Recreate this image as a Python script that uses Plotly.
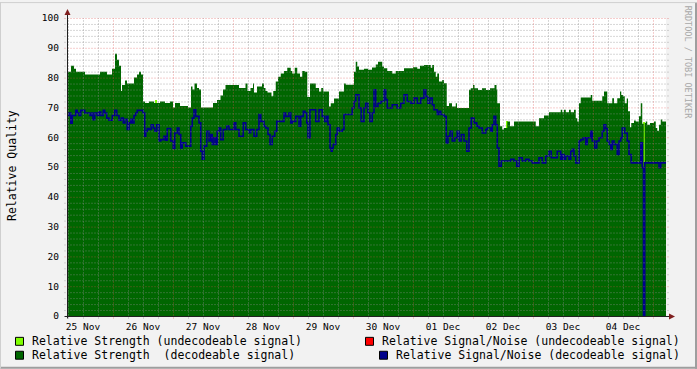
import plotly.graph_objects as go

# ---------------- data (hours since 25 Nov 00:00) ----------------
day_labels = ["25 Nov", "26 Nov", "27 Nov", "28 Nov", "29 Nov",
              "30 Nov", "01 Dec", "02 Dec", "03 Dec", "04 Dec"]

strength_hours = [5.6, 7.2, 8.4, 9.2, 12.8, 18.8, 21.6, 23.6, 24.8, 25.6, 26.4, 27.2, 27.6, 28.8, 29.6,
                  32.4, 33.6, 34.4, 35.2, 36.0, 36.8, 38.4, 40.4, 42.8, 44.8, 46.8, 48.0, 48.8, 50.8,
                  54.0, 55.2, 55.8, 56.6, 57.6, 58.4, 59.2, 64.0, 65.6, 67.0, 68.0, 69.0, 74.4, 77.0,
                  77.8, 79.0, 80.0, 80.4, 81.6, 83.6, 84.4, 85.0, 85.8, 87.4, 88.1, 89.1, 90.0, 91.1,
                  92.4, 93.7, 95.1, 95.7, 96.7, 97.7, 98.8, 99.7, 100.7, 101.7, 102.8, 105.1, 106.4,
                  107.3, 108.1, 110.4, 111.1, 112.4, 114.4, 116.4, 117.1, 120.4, 121.1, 121.7, 122.4,
                  124.4, 126.0, 127.6, 129.1, 130.0, 131.7, 132.4, 133.7, 135.7, 137.1, 140.4, 144.0,
                  145.7, 146.8, 148.4, 151.1, 151.7, 152.4, 153.1, 153.7, 154.4, 155.7, 156.4, 157.5,
                  158.4, 159.6, 161.1, 161.6, 166.4, 167.1, 168.0, 168.6, 170.0, 171.6, 173.2, 174.8,
                  176.6, 177.4, 177.7, 178.8, 179.7, 180.4, 181.7, 182.8, 184.4, 193.1, 194.4, 196.4,
                  198.4, 203.1, 203.7, 204.4, 205.1, 206.4, 207.1, 208.4, 209.1, 209.7, 210.4, 211.1,
                  215.1, 215.7, 219.7, 220.4, 221.7, 223.7, 224.4, 225.7, 226.8, 227.3, 228.0, 228.7,
                  229.5, 230.0, 230.8, 231.3, 232.4, 233.1, 234.4, 235.1, 235.7, 236.3, 236.7, 237.1,
                  237.7, 238.8, 240.4, 241.1, 241.7, 242.4, 243.1, 243.7, 245.2]
strength_vals = [82, 84, 83, 82, 81, 82, 81, 83, 88, 86, 84, 75.5, 77.5, 79, 78,
                 80, 81, 82, 81, 72, 71.5, 72, 71.5, 72, 71.5, 72, 70, 71.5, 70.5,
                 70, 77, 76, 78, 76.5, 76, 70, 71.5, 72.5, 74, 76, 77.5, 76.5, 78,
                 75.5, 76.5, 78, 75, 77, 78, 76.5, 75.5, 75, 73.7, 75.5, 78.7, 80.3, 81.4,
                 82.2, 83.3, 82.2, 81.4, 83.3, 81.4, 80.3, 82.2, 82, 73.5, 78, 76.5, 75.3,
                 76.5, 75.3, 70.3, 71.4, 73, 75.3, 78, 77.6, 82, 85.3, 83.7, 82.6,
                 83, 82.6, 83.4, 84.4, 85.3, 83.7, 83.1, 82.2, 81.4, 82.2, 83.1, 83.5,
                 83, 84, 84.2, 83.3, 84.2, 82, 80.3, 81.4, 78.7, 79.2, 78.1, 70.5,
                 71.4, 70.3, 71.4, 69.8, 75.9, 76.4, 77.5, 76.4, 75.8, 76.4, 75.8, 76.4,
                 77.5, 76, 71.4, 63.7, 62.6, 63.1, 65.3, 63.7, 65.3, 63.7, 66.4, 67.3,
                 68.4, 69.2, 68.4, 69.2, 68.4, 69.2, 68.4, 69.2, 66.4, 65.3, 71.4, 73.3,
                 74.2, 72.2, 73.7, 75.3, 71.4, 73.1, 71.4, 73.1, 75.3, 74.2, 73.7, 71.4,
                 73, 68.7, 63.3, 64.8, 65.6, 65.3, 67, 71.4, 64.5, 0, 64.8, 65.3,
                 64.2, 64.8, 65.3, 63.1, 62.2, 64.2, 65.9, 65.3, 65.3]

snr_hours = [5.6, 6.4, 7.1, 7.7, 9.1, 9.7, 10.4, 11.1, 12.7, 14.8, 15.5, 16.0, 16.7, 17.7, 18.4,
             19.1, 20.1, 20.7, 21.5, 22.4, 23.7, 24.7, 25.5, 26.4, 27.3, 28.1, 28.8, 29.7, 30.4,
             31.1, 31.7, 32.4, 33.1, 33.7, 36.0, 36.7, 37.1, 37.7, 38.4, 39.3, 40.1, 40.7, 41.5,
             42.4, 43.1, 44.4, 45.1, 45.7, 47.1, 48.1, 48.7, 49.7, 50.4, 51.1, 51.7, 53.1, 55.1,
             55.7, 56.4, 57.1, 58.4, 59.1, 59.7, 60.4, 61.5, 62.4, 63.1, 63.7, 64.4, 65.1, 65.7,
             66.4, 67.1, 68.1, 69.5, 70.4, 72.4, 73.1, 74.4, 76.1, 77.1, 78.4, 79.1, 80.4, 81.5,
             82.4, 83.1, 84.4, 85.1, 86.0, 86.8, 87.7, 88.7, 89.5, 92.4, 93.1, 94.4, 95.1, 95.7,
             97.1, 98.4, 99.1, 100.1, 100.8, 101.5, 102.0, 102.8, 105.1, 106.4, 107.7, 108.7,
             109.5, 110.0, 110.8, 111.3, 111.7, 112.1, 113.1, 113.7, 114.4, 115.7, 116.4, 119.7,
             120.4, 121.1, 122.4, 123.3, 124.4, 125.1, 126.0, 126.8, 127.7, 128.4, 129.1, 130.0,
             131.1, 132.4, 133.1, 133.7, 135.7, 137.7, 139.1, 140.4, 141.7, 143.1, 144.4, 145.7,
             147.1, 148.4, 149.1, 150.0, 150.8, 151.7, 152.4, 153.7, 154.4, 155.1, 156.4, 157.3,
             158.0, 158.8, 159.7, 160.7, 161.7, 162.4, 163.3, 164.4, 165.5, 166.4, 167.3, 168.4,
             169.5, 170.4, 171.7, 173.1, 173.7, 175.1, 175.7, 176.4, 177.1, 177.7, 178.4, 179.3,
             183.1, 184.4, 185.5, 186.4, 187.7, 189.1, 190.4, 191.7, 194.4, 195.7, 197.1, 198.4,
             199.3, 201.7, 203.1, 203.7, 204.4, 205.1, 206.4, 207.1, 207.7, 208.4, 209.1, 210.4,
             211.1, 212.1, 213.1, 213.7, 215.1, 215.7, 216.7, 217.5, 218.4, 219.7, 220.4, 221.1,
             221.7, 222.4, 223.1, 223.7, 224.4, 225.7, 226.4, 227.1, 227.7, 228.7, 229.7, 230.4,
             231.3, 235.1, 235.7, 236.2, 236.7, 242.4, 243.1, 245.2]
snr_vals = [67.3, 68.1, 64.7, 67.3, 69, 68.1, 67.3, 69, 68.1, 67.3, 68.1, 65.9, 68.1, 67.3, 68.4,
            67.3, 69, 68.1, 66.4, 65.7, 67.3, 69, 67.3, 65.7, 66.4, 64.8, 66, 62.6, 64.8,
            66, 64.8, 67.3, 68.1, 69, 68.1, 60.3, 62, 62.9, 62.6, 64.2, 63.1, 62, 64.2,
            58.7, 59.2, 60.3, 59, 62.9, 58.7, 56.2, 61.4, 63.1, 60.9, 56.4, 58.1, 57, 63.7,
            66.4, 69.2, 67, 64.8, 55.3, 52.6, 57, 62, 58.7, 60.9, 57.6, 59.8, 57.6, 62,
            63.1, 59.2, 62.6, 63.7, 62.6, 64.8, 62.6, 60.3, 64.8, 62.6, 61.5, 62.6, 60.3, 62.6,
            67.6, 65.3, 63.7, 63.1, 60.9, 57.6, 60.3, 62, 65.3, 68.1, 67, 68.1, 64.8, 65.3,
            67, 63.7, 67, 68.7, 68.1, 64.8, 59.8, 69.2, 65.3, 69.2, 67, 65.3,
            67, 64.2, 56.4, 55.3, 56.4, 57.6, 60.9, 63.1, 62, 62.6, 67.6, 69.8,
            72, 74.2, 69.8, 65.3, 69.8, 71.4, 68.1, 65.3, 68.1, 75.9, 70.3, 71.4,
            72, 75.9, 72.6, 69.8, 70.9, 69.8, 71.4, 74.2, 72, 71.4, 73.1, 71.4,
            73.1, 75.9, 73.7, 71.4, 73.1, 70.9, 69.2, 67.6, 68.7, 67.6, 67, 58.1,
            60.3, 62, 58.7, 59.8, 62, 58.7, 60.9, 58.7, 55.3, 63.1, 66.4, 64.8,
            63.7, 63.1, 61.4, 62.6, 63.1, 62, 64.2, 67, 64.2, 56.4, 50.3, 52,
            52.6, 52, 50.3, 53.1, 52, 52.6, 52, 51.4, 53.1, 51.4, 53.7, 55.3,
            53.1, 55.3, 52.6, 54.2, 52.6, 53.7, 52.6, 55.3, 55.9, 53.7, 51.4, 58.7,
            59.2, 59.8, 57.6, 59.8, 62, 58.7, 56.4, 58.7, 59.8, 62, 64.2, 62.9,
            58.7, 57.6, 55.9, 58.7, 57.6, 54.2, 58.7, 59.8, 63.1, 61.4, 58.7, 54.2,
            51.4, 58.1, 49.8, 0, 51.4, 49.8, 51.4, 51.4]

undec_hours = [41.2, 181.6, 236.5]
undec_vals = [72.4, 65.6, 65.0]

# ---------------- geometry helpers ----------------
W, H = 697, 369
L, R, T, B = 67, 31, 16, 53
PW, PH = W - L - R, H - T - B
X0, X1 = 5.6, 245.2
HALF_X = 0.5 * (X1 - X0) / PW   # half a pixel in hours
HALF_Y = 0.5 * 100 / PH         # half a pixel in value units


def pxx(xp):
    return (xp - L) / PW


def pyy(yp):
    return (H - B - yp) / PH


FONT = "DejaVu Sans Mono"
GRID = "rgba(143,143,143,0.7)"
MGRID = "rgba(222,79,79,0.55)"
ARROW = "#801F1F"
AXIS = "#1F1F1F"
DOT = "1px,2px"

fig = go.Figure()
fig.add_trace(go.Bar(x=undec_hours, y=undec_vals, width=0.45,
                     marker=dict(color="#80FF00", line=dict(width=0)), hoverinfo="skip"))
fig.add_trace(go.Scatter(x=strength_hours, y=strength_vals, mode="lines", line_shape="hv",
                         line=dict(width=0, color="#006600"), fill="tozeroy",
                         fillcolor="#006600", hoverinfo="skip"))
fig.add_trace(go.Scatter(x=snr_hours, y=snr_vals, mode="lines", line_shape="hv",
                         line=dict(width=1.6, color="#00008B"), hoverinfo="skip"))

shapes = []
ext = 2.5 / PW
exty = 2.5 / PH
# horizontal grid
for v in range(2, 101, 2):
    major = v % 10 == 0
    yv = v - HALF_Y
    shapes.append(dict(type="line", xref="paper", yref="y", x0=-ext, x1=1 + ext, y0=yv, y1=yv,
                       line=dict(color=MGRID if major else GRID, width=1, dash=DOT),
                       layer="above"))
# vertical grid
h = 6
while h < X1:
    if h > X0:
        major = h % 24 == 0
        xv = h + HALF_X
        shapes.append(dict(type="line", xref="x", yref="paper", x0=xv, x1=xv, y0=-exty, y1=1,
                           line=dict(color=MGRID if major else GRID, width=1, dash=DOT),
                           layer="above"))
    h += 6
# axes
shapes.append(dict(type="line", xref="paper", yref="paper", x0=0.5 / PW, x1=0.5 / PW, y0=-exty, y1=pyy(10),
                   line=dict(color=AXIS, width=1), layer="above"))
shapes.append(dict(type="line", xref="paper", yref="paper", x0=-ext, x1=pxx(671), y0=-0.5 / PH, y1=-0.5 / PH,
                   line=dict(color=AXIS, width=1), layer="above"))
# arrows
shapes.append(dict(type="path", xref="paper", yref="paper",
                   path=f"M {pxx(64.5)} {pyy(13)} L {pxx(70.5)} {pyy(13)} L {pxx(67.5)} {pyy(7)} Z",
                   fillcolor=ARROW, line=dict(width=0), layer="above"))
shapes.append(dict(type="path", xref="paper", yref="paper",
                   path=f"M {pxx(669)} {pyy(313.5)} L {pxx(669)} {pyy(319.5)} L {pxx(675)} {pyy(316.5)} Z",
                   fillcolor=ARROW, line=dict(width=0), layer="above"))
# frame shading
shapes.append(dict(type="line", xref="paper", yref="paper", x0=pxx(0), x1=pxx(W), y0=pyy(H - 1), y1=pyy(H - 1),
                   line=dict(color="#9E9E9E", width=2)))
shapes.append(dict(type="line", xref="paper", yref="paper", x0=pxx(W - 1), x1=pxx(W - 1), y0=pyy(0), y1=pyy(H),
                   line=dict(color="#9E9E9E", width=2)))
shapes.append(dict(type="line", xref="paper", yref="paper", x0=pxx(0), x1=pxx(W), y0=pyy(0.5), y1=pyy(0.5),
                   line=dict(color="#CFCFCF", width=1)))
shapes.append(dict(type="line", xref="paper", yref="paper", x0=pxx(0.5), x1=pxx(0.5), y0=pyy(0), y1=pyy(H),
                   line=dict(color="#CFCFCF", width=1)))

# legend boxes
legend = [
    (15, 337, "#80FF00", 30, "Relative Strength (undecodeable signal)"),
    (15, 351, "#006600", 30, "Relative Strength  (decodeable signal)"),
    (365, 337, "#FF0000", 380, "Relative Signal/Noise (undecodeable signal)"),
    (379, 351, "#00008B", 394, "Relative Signal/Noise (decodeable signal)"),
]
annotations = []
for bx, by, col, tx, txt in legend:
    shapes.append(dict(type="rect", xref="paper", yref="paper",
                       x0=pxx(bx + 0.5), x1=pxx(bx + 8.5), y0=pyy(by + 8.5), y1=pyy(by + 0.5),
                       fillcolor=col, line=dict(color="black", width=1)))
    annotations.append(dict(x=pxx(tx), y=pyy(by + 4.5), xref="paper", yref="paper",
                            text=txt.replace(" ", "&nbsp;"), showarrow=False,
                            xanchor="left", yanchor="middle",
                            font=dict(family=FONT, size=11.5, color="black")))

annotations.append(dict(x=pxx(12), y=pyy(165), xref="paper", yref="paper", text="Relative Quality",
                        textangle=-90, showarrow=False, xanchor="center", yanchor="middle",
                        font=dict(family=FONT, size=11.5, color="black")))
annotations.append(dict(x=pxx(688), y=pyy(60), xref="paper", yref="paper",
                        text="RRDTOOL / TOBI OETIKER", textangle=90, showarrow=False,
                        xanchor="center", yanchor="middle",
                        font=dict(family=FONT, size=8.5, color="#A8A8A8")))

fig.update_layout(
    width=W, height=H, margin=dict(l=L, r=R, t=T, b=B, pad=0),
    paper_bgcolor="#F2F2F2", plot_bgcolor="#FFFFFF",
    showlegend=False, shapes=shapes, annotations=annotations,
    bargap=0,
    xaxis=dict(range=[X0, X1], tickvals=[12 + 24 * i for i in range(len(day_labels))],
               ticktext=day_labels, ticks="", showgrid=False, zeroline=False, showline=False,
               tickfont=dict(family=FONT, size=9.5, color="black"), ticklabelstandoff=3,
               fixedrange=True),
    yaxis=dict(range=[0, 100], tickvals=list(range(0, 101, 10)), ticks="", showgrid=False,
               zeroline=False, showline=False, ticklabelstandoff=7,
               tickfont=dict(family=FONT, size=9.5, color="black"), fixedrange=True),
)

fig.write_html("out.html")
